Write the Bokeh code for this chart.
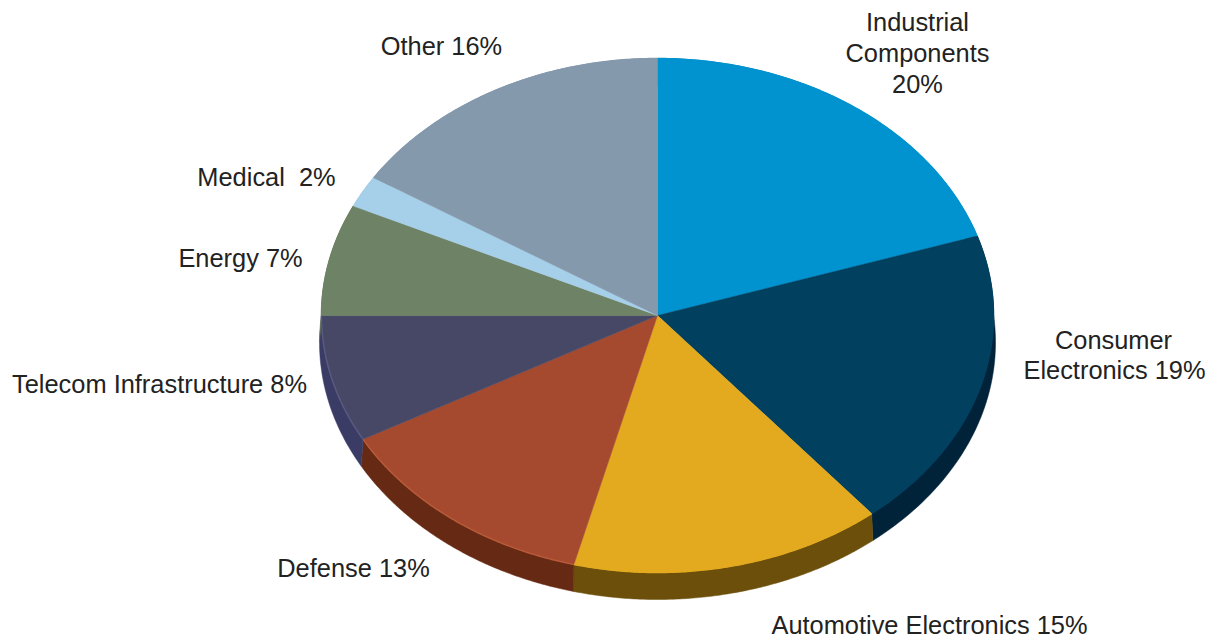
import numpy as np
from bokeh.plotting import figure
from bokeh.models import Range1d, ColumnDataSource
from bokeh.core.properties import value
from bokeh.embed import file_html
from bokeh.resources import INLINE

categories = ["Industrial Components", "Consumer Electronics", "Automotive Electronics", "Defense",
              "Telecom Infrastructure", "Energy", "Medical", "Other"]
shares = [20, 19, 15, 13, 8, 7, 2, 16]
top_colors = ["#0093d0", "#024060", "#e3aa1f", "#a54a2e", "#474766", "#6e8265", "#a6cfe9", "#8599ad"]
side_colors = ["#004f75", "#00233a", "#6b4f0a", "#662a14", "#3a3c66", "#56664f", "#7fa3bb", "#66788a"]
edge_colors = ["#0093d0", "#024060", "#e3aa1f", "#b85a3a", "#5a5a80", "#6e8265", "#a6cfe9", "#8599ad"]

label_lines = ["Industrial", "Components", "20%", "Consumer", "Electronics 19%",
               "Automotive Electronics 15%", "Defense 13%", "Telecom Infrastructure 8%",
               "Energy 7%", "Medical\u00a0 2%", "Other 16%"]
label_x = [917, 917, 917, 1113, 1114, 929, 353, 159, 240, 266, 441]
label_y = [21, 52, 83, 339, 369, 624, 567, 383, 257, 176, 45]

CX, CY, RX, RY, DEPTH = 657, 315, 336, 257, 27

p = figure(width=1212, height=639, output_backend="svg", toolbar_location=None,
           x_range=Range1d(0, 1212), y_range=Range1d(639, 0),
           min_border=0, outline_line_color=None, background_fill_color="white")
p.axis.visible = False
p.grid.visible = False

edges = np.cumsum([0] + shares) / sum(shares) * 2 * np.pi


def arc(a, b, dy=0.0, dr=0.0):
    t = np.linspace(a, b, 120)
    return CX + (RX + dr) * np.sin(t), CY + dy - RY * np.cos(t)


side_x, side_y, top_x, top_y, rim_x, rim_y = [], [], [], [], [], []
for a, b in zip(edges[:-1], edges[1:]):
    x0, y0 = arc(a, b)
    x1, y1 = arc(a, b, DEPTH, 2.0)
    side_x.append(np.concatenate([x0, x1[::-1]]))
    side_y.append(np.concatenate([y0, y1[::-1]]))
    top_x.append(np.concatenate([[CX], x0]))
    top_y.append(np.concatenate([[CY], y0]))
    rim_x.append(x0)
    rim_y.append(y0)

p.patches(side_x, side_y, fill_color=side_colors, line_color=side_colors, line_width=0.5)
p.patches(top_x, top_y, fill_color=top_colors, line_color=top_colors, line_width=0.5)
p.multi_line(rim_x, rim_y, line_color=edge_colors, line_width=1.5)

src = ColumnDataSource(dict(x=label_x, y=label_y, text=label_lines))
p.text("x", "y", text="text", source=src, text_font=value("Liberation Sans"),
       text_font_size="25.4px", text_color="#222222", text_align="center", text_baseline="middle")

open("out.html", "w").write(file_html(p, INLINE))
